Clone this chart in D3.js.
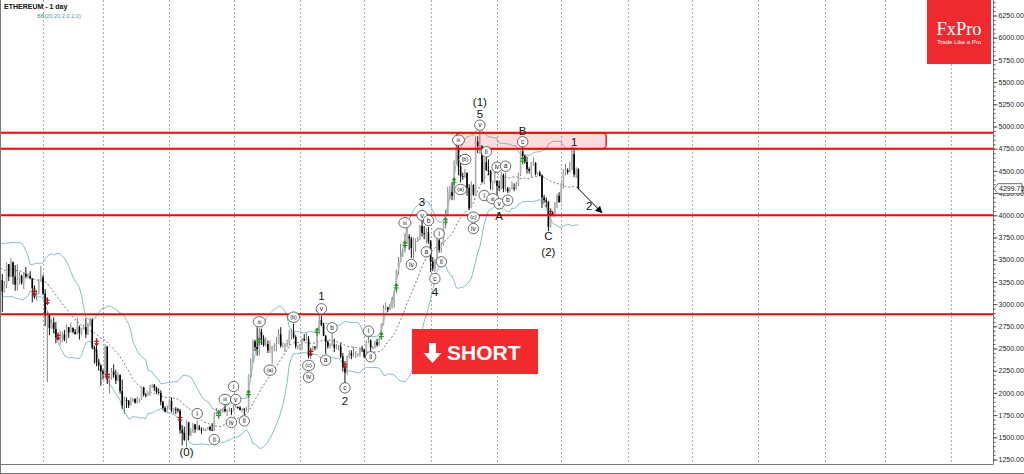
<!DOCTYPE html>
<html><head><meta charset="utf-8">
<script src="https://cdn.jsdelivr.net/npm/d3@7"></script>
<style>
html,body{margin:0;padding:0;background:#fff;}
svg{display:block;font-family:"Liberation Sans",Arial,sans-serif;}
</style></head><body>
<svg id="chart" width="1024" height="474"></svg>
<script>
// ---------- DATA (ETHEREUM daily) ----------
const firstDate = "2024-12-14";
const firstOpen = 3910;
const closes = [
 3870,3960,3990,3880,3630,3420,3470,3330,3280,3420,3490,3490,3330,3330,3400,3350,3360,3330,
 3350,3450,3610,3660,3630,3690,3380,3330,3220,3270,3280,3270,3140,3220,3450,3310,3470,3310,3220,3290,3320,3240,3340,3310,3320,3290,3180,3080,3120,3250,3300,
 3120,2870,2880,2730,2790,2720,2630,2630,2630,2660,2600,2740,2680,2730,2690,2660,2745,2670,2720,2740,2660,2770,2820,2510,2490,2340,2310,2240,
 2215,2520,2150,2170,2240,2200,2140,2200,2020,1860,1920,1910,1860,1910,1930,1890,1930,1930,2060,1980,1970,1980,2080,2090,2060,2010,2000,1900,1830,1790,1820,
 1910,1800,1820,1815,1800,1580,1550,1470,1670,1520,1570,1645,1590,1620,1585,1580,1585,1590,1615,1585,1580,1755,1795,1770,1785,1820,1795,1800,1800,1795,
 1840,1840,1835,1810,1815,1810,1810,2200,2345,2580,2515,2495,2680,2610,2540,2550,2480,2490,2520,2525,2550,2660,2530,2530,2550,2560,2660,2680,2630,2530,2530,
 2540,2610,2590,2610,2420,2480,2520,2510,2680,2820,2770,2645,2575,2525,2545,2545,2510,2525,2525,2410,2290,2230,2410,2450,2420,2420,2420,2440,2500,2490,
 2410,2570,2590,2510,2515,2570,2540,2610,2770,2950,2960,2940,2970,3010,3140,3370,3480,3550,3590,3760,3760,3740,3630,3710,3710,3740,3880,3800,3790,3810,3700,
 3480,3400,3500,3720,3610,3680,3910,4010,4260,4260,4220,4600,4770,4550,4440,4430,4480,4310,4080,4340,4230,4830,4780,4780,4380,4600,4510,4500,4370,4370,4390,
 4330,4310,4450,4300,4300,4270,4300,4310,4300,4350,4460,4720,4670,4600,4520,4500,4590,4590,4470,4480,4450,4200,4170,4150,3870,4030,4010,4140,4220,4150,
 4350,4490,4510,4490,4510,4690,4460,4520,4299.73
];
const highs = [
 3940,3970,4110,4060,3900,3710,3500,3550,3360,3440,3530,3540,3510,3440,3420,3410,3430,3430,
 3400,3520,3620,3670,3680,3750,3700,3410,3350,3320,3300,3310,3340,3260,3470,3450,3520,3480,3440,3450,3360,3330,3360,3420,3350,3370,3290,3210,3160,3280,3430,
 3330,3170,2920,2890,2830,2850,2800,2660,2700,2690,2710,2770,2740,2790,2740,2720,2850,2760,2730,2770,2840,2790,2850,2840,2530,2530,2380,2320,
 2260,2550,2530,2220,2280,2320,2260,2230,2210,2150,1960,1950,1920,1950,1940,1940,1960,1940,2070,2070,2000,2010,2090,2100,2100,2070,2050,2030,1910,1850,1860,
 1930,1950,1830,1840,1830,1820,1640,1620,1690,1670,1600,1660,1650,1690,1640,1610,1610,1600,1620,1630,1660,1780,1830,1800,1820,1830,1860,1820,1840,1830,
 1870,1870,1850,1850,1830,1830,1840,2210,2390,2600,2600,2740,2730,2720,2650,2630,2590,2590,2530,2560,2630,2720,2740,2570,2560,2600,2710,2720,2780,2650,2540,
 2550,2620,2660,2680,2640,2510,2530,2530,2690,2880,2870,2790,2650,2590,2560,2680,2610,2550,2540,2560,2450,2310,2420,2480,2480,2520,2470,2450,2510,2530,
 2490,2590,2640,2600,2530,2590,2610,2630,2780,2990,3020,2970,3000,3080,3150,3390,3530,3680,3620,3790,3860,3790,3760,3750,3740,3760,3890,3940,3880,3860,3870,
 3720,3530,3510,3740,3730,3700,3920,4060,4320,4330,4370,4620,4790,4790,4680,4480,4520,4480,4350,4380,4350,4890,4890,4950,4790,4650,4660,4630,4510,4390,4480,
 4390,4390,4490,4470,4480,4320,4320,4380,4360,4380,4480,4730,4770,4680,4660,4540,4600,4650,4600,4490,4500,4460,4230,4200,4160,4060,4040,4150,4240,4260,
 4370,4520,4580,4530,4600,4760,4750,4540,4530
];
const lows = [
 3850,3840,3910,3860,3600,3350,3100,3310,3250,3220,3400,3450,3310,3300,3320,3330,3300,3320,
 3320,3340,3440,3600,3590,3620,3360,3210,3160,3190,3230,3230,2910,3130,3180,3260,3300,3220,3150,3150,3220,3220,3170,3290,3290,3280,3020,3060,3040,3110,3250,
 3100,2750,2120,2650,2720,2670,2560,2590,2540,2570,2580,2560,2620,2680,2670,2660,2660,2600,2650,2710,2620,2650,2750,2490,2330,2300,2250,2080,
 2150,2170,2100,1990,2150,2170,2100,2130,1990,1820,1760,1830,1830,1860,1900,1880,1880,1890,1920,1960,1950,1970,1970,2050,2020,1990,1990,1860,1810,1780,1790,
 1820,1780,1760,1760,1780,1540,1410,1460,1385,1470,1510,1550,1550,1580,1580,1540,1570,1570,1585,1570,1570,1570,1750,1720,1740,1780,1780,1740,1790,1750,
 1790,1830,1820,1800,1780,1750,1790,1800,2170,2340,2470,2420,2420,2540,2520,2520,2450,2450,2330,2470,2470,2550,2510,2510,2460,2520,2530,2600,2610,2500,2490,
 2480,2480,2580,2590,2390,2380,2460,2480,2490,2660,2750,2640,2440,2500,2500,2530,2460,2490,2480,2390,2240,2110,2200,2390,2380,2400,2390,2410,2410,2460,
 2390,2400,2560,2470,2490,2500,2520,2530,2600,2760,2930,2910,2930,2950,2960,3120,3330,3470,3530,3580,3680,3610,3520,3510,3590,3700,3720,3760,3730,3680,3680,
 3360,3370,3360,3480,3580,3580,3660,3850,4000,4180,4170,4170,4580,4450,4370,4400,4420,4220,4060,4080,4220,4220,4700,4690,4360,4350,4500,4450,4290,4280,4360,
 4200,4270,4290,4260,4270,4250,4260,4290,4270,4290,4330,4440,4640,4580,4470,4470,4430,4560,4450,4450,4440,4080,4140,4090,3820,3860,3990,3980,4080,4140,
 4140,4300,4450,4460,4480,4510,4430,4420,4290
];

const monthTicks = ["2025-02-01","2025-03-01","2025-04-01","2025-05-01","2025-06-01","2025-07-01","2025-08-01","2025-09-01","2025-10-01","2025-11-01","2025-12-01","2026-01-01","2026-02-01","2026-03-01","2026-04-01"];
const monthLabels = ["Feb-2025","Mar-2025","Apr-2025","May-2025","Jun-2025","Jul-2025","Aug-2025","Sep-2025","Oct-2025","Nov-2025","Dec-2025","Jan-2026","Feb-2026","Mar-2026","Apr-2026"];
const priceTicks = [1250,1500,1750,2000,2250,2500,2750,3000,3250,3500,3750,4000,4250,4500,4750,5000,5250,5500,5750,6000,6250];

const levels = [4930, 4750, 4000, 2885];
const zoneDates = ["2025-08-13","2025-10-22"];
const zonePrices = [4930, 4750];
const projDates = ["2025-10-09","2025-10-20"];
const projPrices = [4300, 4029];
const lastPrice = 4299.73;

const bigLabels = [
 ["(0)","2025-04-09",1340],["1","2025-06-11",3089],["2","2025-06-22",1907],["3","2025-07-28",4148],
 ["4","2025-08-03",3142],["(1)","2025-08-24",5278],["5","2025-08-24",5146],["A","2025-09-02",3998],
 ["B","2025-09-13",4955],["C","2025-09-25",3765],["(2)","2025-09-25",3589],["1","2025-10-07",4823],["2","2025-10-14",4103]
];
const circledLabels = [
 ["i","2025-04-14",1768],["ii","2025-04-22",1475],["iii","2025-04-27",1926],["v","2025-05-02",1926],
 ["i","2025-05-01",2072],["iv","2025-04-30",1667],["ii","2025-05-06",1684],["iii","2025-05-13",2801],
 ["(a)","2025-05-18",2256],["(b)","2025-05-29",2853],["(c)","2025-06-05",2309],["iv","2025-06-05",2177],
 ["v","2025-06-11",2947],["a","2025-06-13",2369],["b","2025-06-16",2733],["c","2025-06-22",2057],
 ["i","2025-07-03",2695],["ii","2025-07-04",2407],["iii","2025-07-20",3916],["iv","2025-07-23",3446],
 ["v","2025-07-28",3998],["b","2025-07-31",3941],["a","2025-07-30",3589],["c","2025-08-03",3288],
 ["i","2025-08-05",3792],["ii","2025-08-06",3476],["iii","2025-08-14",4846],["(a)","2025-08-15",4291],
 ["(b)","2025-08-17",4628],["(c)","2025-08-21",3979],["iv","2025-08-21",3851],["v","2025-08-24",5015],
 ["ii","2025-08-27",4715],["i","2025-08-26",4223],["iii","2025-08-30",4186],["iv","2025-09-01",4542],
 ["v","2025-09-02",4130],["a","2025-09-05",4553],["b","2025-09-06",4170],["c","2025-09-13",4828]
];
const downSignals = [["2025-01-28",3131],["2025-02-03",3033],["2025-02-08",2635],["2025-02-26",2571],["2025-03-03",2196],["2025-04-06",1712],["2025-06-06",2455],["2025-06-22",2312],["2025-09-26",4032]];
const upSignals = [["2025-04-24",1757],["2025-05-08",1993],["2025-05-13",2582],["2025-06-09",2691],["2025-07-09",2646],["2025-07-16",3193],["2025-07-20",3671],["2025-08-08",3934],["2025-08-12",4384],["2025-09-13",4620]];

// ---------- CHART ----------
const parse = d3.utcParse("%Y-%m-%d");
const start = parse(firstDate);
const candles = closes.map((c,i)=>({
  date: d3.utcDay.offset(start,i),
  open: i ? closes[i-1] : firstOpen, high: highs[i], low: lows[i], close: c
}));

const plotW = 993, plotH = 464.5;
const x = d3.scaleUtc().domain([parse("2025-02-01"), parse("2026-04-01")]).range([43, 951]);
const y = d3.scaleLinear().domain([1250, 6250]).range([459.5, 15.5]);

const svg = d3.select("#chart");
const defs = svg.append("defs");
defs.append("clipPath").attr("id","plotClip").append("rect").attr("x",1).attr("y",0).attr("width",plotW-1).attr("height",plotH);
defs.append("clipPath").attr("id","xClip").append("rect").attr("x",0).attr("y",plotH).attr("width",956).attr("height",12);
defs.append("marker").attr("id","arrowHead").attr("viewBox","0 0 10 10").attr("refX",9).attr("refY",5)
  .attr("markerWidth",7).attr("markerHeight",7).attr("markerUnits","userSpaceOnUse").attr("orient","auto")
  .append("path").attr("d","M0,0 L10,5 L0,10 z").attr("fill","#000");

svg.append("rect").attr("width",1024).attr("height",474).attr("fill","#fff");

const plot = svg.append("g").attr("clip-path","url(#plotClip)");

// vertical month grid
plot.append("g").selectAll("line").data(monthTicks.map(parse)).join("line")
  .attr("x1",d=>Math.round(x(d))+0.5).attr("x2",d=>Math.round(x(d))+0.5)
  .attr("y1",0).attr("y2",plotH)
  .attr("stroke","#a8a8a8").attr("stroke-width",1).attr("stroke-dasharray","2,2");

// Bollinger bands (20, 2.0) computed from closes
const bb = [];
for (let i = 19; i < candles.length; i++) {
  const w = closes.slice(i-19, i+1);
  const m = d3.mean(w);
  const sd = Math.sqrt(d3.mean(w, v => (v-m)*(v-m)));
  bb.push({date: candles[i].date, mid: m, up: m + 2*sd, lo: m - 2*sd});
}
const ln = key => d3.line().x(d=>x(d.date)).y(d=>y(d[key])).curve(d3.curveLinear);
plot.append("path").datum(bb).attr("d",ln("up")).attr("fill","none").attr("stroke","#86bcc4").attr("stroke-width",1);
plot.append("path").datum(bb).attr("d",ln("lo")).attr("fill","none").attr("stroke","#86bcc4").attr("stroke-width",1);
plot.append("path").datum(bb).attr("d",ln("mid")).attr("fill","none").attr("stroke","#555").attr("stroke-width",0.8).attr("stroke-dasharray","2,2");

// candles
const cg = plot.append("g");
cg.selectAll("line").data(candles).join("line")
  .attr("x1",d=>x(d.date)).attr("x2",d=>x(d.date))
  .attr("y1",d=>y(d.high)).attr("y2",d=>y(d.low))
  .attr("stroke",d=>d.close>=d.open?"#808080":"#111").attr("stroke-width",1);
cg.selectAll("rect").data(candles).join("rect")
  .attr("x",d=>x(d.date)-0.8).attr("width",1.6)
  .attr("y",d=>y(Math.max(d.open,d.close)))
  .attr("height",d=>Math.max(0.8, Math.abs(y(d.open)-y(d.close))))
  .attr("fill",d=>d.close>=d.open?"#b0b0b0":"#000");

// red levels & zone
plot.append("rect")
  .attr("x",x(parse(zoneDates[0]))).attr("y",y(zonePrices[0]))
  .attr("width",x(parse(zoneDates[1]))-x(parse(zoneDates[0])))
  .attr("height",y(zonePrices[1])-y(zonePrices[0]))
  .attr("rx",4).attr("fill","rgba(240,60,60,0.18)").attr("stroke","#ff1a1a").attr("stroke-width",1.5);
plot.append("g").selectAll("line").data(levels).join("line")
  .attr("x1",0).attr("x2",plotW).attr("y1",d=>y(d)).attr("y2",d=>y(d))
  .attr("stroke","#ff0000").attr("stroke-width",2);

// signals
const sg = plot.append("g");
upSignals.forEach(([d,p])=>{
  const cx = x(parse(d)), cy = y(p);
  sg.append("path").attr("d",`M${cx},${cy-4} L${cx-2.6},${cy-1} L${cx+2.6},${cy-1} Z`).attr("fill","#1f9a1f");
  sg.append("line").attr("x1",cx).attr("x2",cx).attr("y1",cy-1.5).attr("y2",cy+4).attr("stroke","#1f9a1f").attr("stroke-width",1.4);
  sg.append("line").attr("x1",cx-2.5).attr("x2",cx+2.5).attr("y1",cy+1).attr("y2",cy+1).attr("stroke","#1f9a1f").attr("stroke-width",1);
});
downSignals.forEach(([d,p])=>{
  const cx = x(parse(d)), cy = y(p);
  sg.append("path").attr("d",`M${cx},${cy+4} L${cx-2.6},${cy+1} L${cx+2.6},${cy+1} Z`).attr("fill","#b01010");
  sg.append("line").attr("x1",cx).attr("x2",cx).attr("y1",cy+1.5).attr("y2",cy-4).attr("stroke","#b01010").attr("stroke-width",1.4);
  sg.append("line").attr("x1",cx-2.5).attr("x2",cx+2.5).attr("y1",cy-1).attr("y2",cy-1).attr("stroke","#b01010").attr("stroke-width",1);
});

// projection arrow
plot.append("line")
  .attr("x1",x(parse(projDates[0]))).attr("y1",y(projPrices[0]))
  .attr("x2",x(parse(projDates[1]))).attr("y2",y(projPrices[1]))
  .attr("stroke","#000").attr("stroke-width",1).attr("marker-end","url(#arrowHead)");

// circled wave labels
const cl = plot.append("g").selectAll("g").data(circledLabels).join("g")
  .attr("transform",d=>`translate(${x(parse(d[1]))},${y(d[2])})`);
cl.append("ellipse").attr("rx",d=>d[0].length>2?6:5.2).attr("ry",5.2)
  .attr("fill","#fff").attr("stroke","#444").attr("stroke-width",0.8);
cl.append("text").text(d=>d[0]).attr("text-anchor","middle").attr("dy","0.35em")
  .attr("font-size",d=>d[0].length>2?5.5:6.5).attr("fill","#111");

// big wave labels
plot.append("g").selectAll("text").data(bigLabels).join("text")
  .attr("x",d=>x(parse(d[1]))).attr("y",d=>y(d[2])).attr("dy","0.35em")
  .attr("text-anchor","middle").attr("font-size",11.5).attr("fill","#111").text(d=>d[0]);

// frame & axes
svg.append("line").attr("x1",0.5).attr("x2",0.5).attr("y1",0).attr("y2",474).attr("stroke","#777");
svg.append("line").attr("x1",0).attr("x2",plotW+0.5).attr("y1",plotH).attr("y2",plotH).attr("stroke","#777");
svg.append("line").attr("x1",0).attr("x2",1024).attr("y1",473.5).attr("y2",473.5).attr("stroke","#777");
svg.append("line").attr("x1",plotW+0.5).attr("x2",plotW+0.5).attr("y1",0).attr("y2",plotH).attr("stroke","#777");

const yMinor = svg.append("g").attr("transform",`translate(${plotW+0.5},0)`)
  .call(d3.axisRight(y).tickValues(d3.range(1250,6451,50)).tickSize(2).tickFormat(""));
yMinor.select(".domain").remove();
yMinor.selectAll("line").attr("stroke","#555");
const yAx = svg.append("g").attr("transform",`translate(${plotW+0.5},0)`)
  .call(d3.axisRight(y).tickValues(priceTicks).tickSize(4).tickPadding(1).tickFormat(d3.format(".2f")));
yAx.select(".domain").remove();
yAx.selectAll("line").attr("stroke","#555");
yAx.selectAll("text").attr("font-size",7).attr("font-family","Liberation Sans, Arial, sans-serif").attr("fill","#222");

const xAx = svg.append("g").attr("transform",`translate(0,${plotH})`).attr("clip-path","url(#xClip)")
  .call(d3.axisBottom(x).tickValues(monthTicks.map(parse)).tickSize(2).tickPadding(0.5)
    .tickFormat((d,i)=>monthLabels[i]));
xAx.select(".domain").remove();
xAx.selectAll("line").attr("stroke","#777");
xAx.selectAll("text").attr("font-size",7).attr("font-family","Liberation Sans, Arial, sans-serif").attr("fill","#222");

// current price tag
const py = y(lastPrice);
svg.append("path").attr("d",`M${plotW+1},${py} L${plotW+5},${py-5} L1022,${py-5} L1022,${py+5} L${plotW+5},${py+5} Z`)
  .attr("fill","#fff").attr("stroke","#333").attr("stroke-width",0.7);
svg.append("text").attr("x",plotW+6).attr("y",py).attr("dy","0.35em").attr("font-size",7).attr("fill","#111")
  .text(d3.format(".2f")(lastPrice));

// title
svg.append("text").attr("x",4).attr("y",9).attr("font-size",7).attr("font-weight","bold").attr("fill","#111").text("ETHEREUM - 1 day");
svg.append("text").attr("x",37).attr("y",18).attr("font-size",5.6).attr("fill","#4f9a9a").text("BB(20,20,2.0,2.0)");

// FxPro logo
svg.append("rect").attr("x",927).attr("y",0).attr("width",64).attr("height",64).attr("fill","#ee2a2e");
svg.append("text").attr("x",959).attr("y",35).attr("text-anchor","middle").attr("font-family","Liberation Serif, Times New Roman, serif")
  .attr("font-size",18.5).attr("fill","#fff").text("FxPro");
svg.append("text").attr("x",959).attr("y",44).attr("text-anchor","middle").attr("font-size",6).attr("fill","#fff").text("Trade Like a Pro");

// SHORT button
svg.append("rect").attr("x",412).attr("y",329).attr("width",126).attr("height",45).attr("fill","#f32a2d");
svg.append("path").attr("d","M429,343 L436,343 L436,353 L441.5,353 L432.5,363 L423.5,353 L429,353 Z").attr("fill","#fff");
svg.append("text").attr("x",447).attr("y",360).attr("font-size",21).attr("font-weight","bold").attr("fill","#fff").text("SHORT");
</script>
</body></html>
